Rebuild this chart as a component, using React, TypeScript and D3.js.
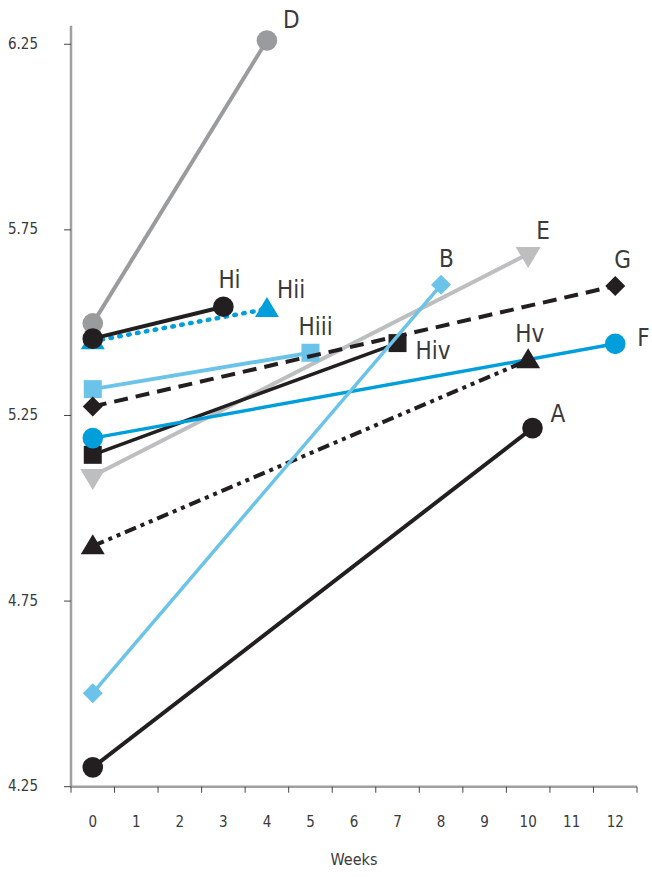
import * as d3 from 'd3';

// x axis categories (weeks) and y ticks
const weeks = [0, 1, 2, 3, 4, 5, 6, 7, 8, 9, 10, 11, 12];
const yTicks = [4.25, 4.75, 5.25, 5.75, 6.25];

// each series runs from week 0 to its end week; drawn in this order
const seriesNames = ['E', 'Hiii', 'G', 'Hiv', 'F', 'Hv', 'B', 'A', 'D', 'Hii', 'Hi'];
const endWeeks = [10, 5, 12, 7, 12, 10, 8, 10.1, 4, 4, 3];
const startValues = [5.087, 5.321, 5.274, 5.144, 5.189, 4.898, 4.502, 4.302, 5.498, 5.45, 5.457];
const endValues = [5.685, 5.419, 5.599, 5.445, 5.443, 5.399, 5.602, 5.216, 6.26, 5.537, 5.543];

const BLACK = '#231f20';
const BLUE = '#009fdb';
const LIGHT_BLUE = '#6bc3ea';

type Style = {
  color: string;
  width: number;
  dash?: string;
  cap?: 'round' | 'butt';
  marker: 'circle' | 'square' | 'diamond' | 'triangle' | 'triangleDown';
  label: [number, number];
};

const styles: Record<string, Style> = {
  A: { color: BLACK, width: 4, marker: 'circle', label: [18, -6] },
  B: { color: LIGHT_BLUE, width: 3.5, marker: 'diamond', label: [-2, -18] },
  D: { color: '#9a9b9d', width: 4, marker: 'circle', label: [16, -13] },
  E: { color: '#bdbec0', width: 4, marker: 'triangleDown', label: [8, -15] },
  F: { color: BLUE, width: 3.5, marker: 'circle', label: [22, 2] },
  G: { color: BLACK, width: 4, dash: '14 8', marker: 'diamond', label: [-1, -18] },
  Hi: { color: BLACK, width: 4, marker: 'circle', label: [-5, -19] },
  Hii: { color: BLUE, width: 4.5, dash: '1.5 7.5', cap: 'round', marker: 'triangle', label: [10, -11] },
  Hiii: { color: LIGHT_BLUE, width: 4, marker: 'square', label: [-12, -18] },
  Hiv: { color: BLACK, width: 3.5, marker: 'square', label: [18, 16] },
  Hv: { color: BLACK, width: 4, dash: '12 5 4 5 4 5', marker: 'triangle', label: [-13, -18] },
};

const W = 652;
const H = 877;
const FONT = '"Liberation Sans Narrow", "DejaVu Sans Condensed", "Open Sans", sans-serif';
const TEXT = '#3a3a3a';
const AXIS = '#a0a0a2';

const x = d3.scaleLinear().domain([-0.5, 12.5]).range([71, 637]);
const y = d3.scaleLinear().domain([4.25, 6.3]).range([786.7, 25.7]);
const line = d3.line<[number, number]>().x((d) => x(d[0])).y((d) => y(d[1]));

function markerPath(kind: Style['marker']): string {
  switch (kind) {
    case 'square':
      return 'M-9,-9H9V9H-9Z';
    case 'diamond':
      return 'M0,-10L10,0L0,10L-10,0Z';
    case 'triangle':
      return 'M0,-12L12,8H-12Z';
    case 'triangleDown':
      return 'M-12.5,-7H12.5L0,14Z';
    default:
      return d3.symbol(d3.symbolCircle, Math.PI * 10.3 * 10.3)() ?? '';
  }
}

export default function App() {
  const xTickEdges = d3.range(-0.5, 13, 1);
  return (
    <div style={{ position: 'absolute', left: 0, top: 0 }}>
      <svg width={W} height={H} viewBox={`0 0 ${W} ${H}`} style={{ display: 'block', background: '#fff' }}>
        {/* axes */}
        <line x1={x(-0.5)} x2={x(-0.5)} y1={y(6.3)} y2={y(4.25)} stroke={AXIS} strokeWidth={2.5} />
        <line x1={x(-0.5) - 1} x2={x(12.5)} y1={y(4.25)} y2={y(4.25)} stroke={AXIS} strokeWidth={2.5} />
        {yTicks.map((t) => (
          <g key={t}>
            <line x1={x(-0.5) - 7} x2={x(-0.5)} y1={y(t)} y2={y(t)} stroke="#444" strokeWidth={1} />
            <text
              x={38}
              y={y(t)}
              textAnchor="end"
              dominantBaseline="middle"
              fontFamily={FONT}
              fontSize={15}
              fill={TEXT}
            >
              {t.toFixed(2)}
            </text>
          </g>
        ))}
        {xTickEdges.map((e) => (
          <line key={e} x1={x(e)} x2={x(e)} y1={y(4.25)} y2={y(4.25) + 6} stroke="#444" strokeWidth={1} />
        ))}
        {weeks.map((w) => (
          <text
            key={w}
            x={x(w)}
            y={822}
            textAnchor="middle"
            dominantBaseline="middle"
            fontFamily={FONT}
            fontSize={15}
            fill={TEXT}
          >
            {w}
          </text>
        ))}
        <text x={(x(-0.5) + x(12.5)) / 2} y={860} textAnchor="middle" dominantBaseline="middle" fontFamily={FONT} fontSize={16} fill={TEXT}>
          Weeks
        </text>

        {/* series */}
        {seriesNames.map((name, i) => {
          const s = styles[name];
          const pts: [number, number][] = [
            [0, startValues[i]],
            [endWeeks[i], endValues[i]],
          ];
          return (
            <g key={name}>
              <path
                d={line(pts) ?? ''}
                fill="none"
                stroke={s.color}
                strokeWidth={s.width}
                strokeDasharray={s.dash}
                strokeLinecap={s.cap ?? 'butt'}
              />
              {pts.map((p, j) => (
                <path key={j} d={markerPath(s.marker)} transform={`translate(${x(p[0])},${y(p[1])})`} fill={s.color} />
              ))}
            </g>
          );
        })}

        {/* series labels */}
        {seriesNames.map((name, i) => {
          const s = styles[name];
          return (
            <text
              key={name}
              x={x(endWeeks[i]) + s.label[0]}
              y={y(endValues[i]) + s.label[1]}
              fontFamily={FONT}
              fontSize={24}
              fill={TEXT}
            >
              {name}
            </text>
          );
        })}
      </svg>
    </div>
  );
}
